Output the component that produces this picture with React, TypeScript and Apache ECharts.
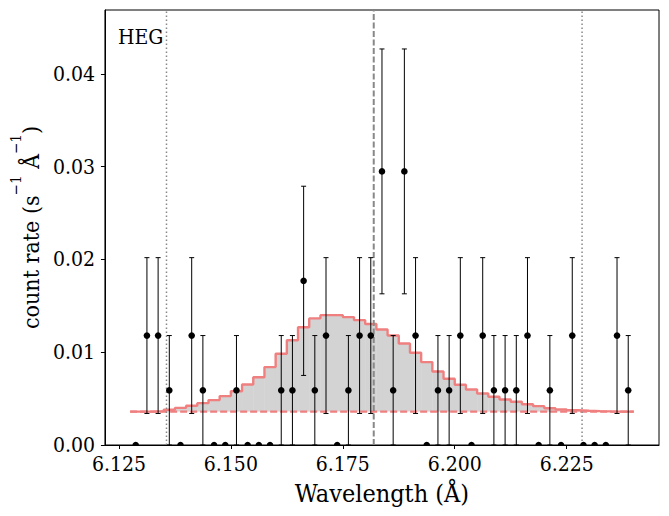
import React, { useEffect, useRef } from "react";
import * as echarts from "echarts";

// Bin centres (Å)
const CENTERS = [
  6.12875, 6.13125, 6.13375, 6.13625, 6.13875, 6.14125, 6.14375, 6.14625, 6.14875, 6.15125,
  6.15375, 6.15625, 6.15875, 6.16125, 6.16375, 6.16625, 6.16875, 6.17125, 6.17375, 6.17625,
  6.17875, 6.18125, 6.18375, 6.18625, 6.18875, 6.19125, 6.19375, 6.19625, 6.19875, 6.20125,
  6.20375, 6.20625, 6.20875, 6.21125, 6.21375, 6.21625, 6.21875, 6.22125, 6.22375, 6.22625,
  6.22875, 6.23125, 6.23375, 6.23625, 6.23875,
];
const BIN_HALF = 0.00125;

// Observed count rates (s^-1 Å^-1)
const RATES = [
  0, 0.0118, 0.0118, 0.0059, 0, 0.0118, 0.0059, 0, 0, 0.0059,
  0, 0, 0, 0.0059, 0.0059, 0.0177, 0.0059, 0.0118, 0, 0.0059,
  0.0118, 0.0118, 0.0295, 0.0059, 0.0295, 0.0118, 0, 0.0059, 0.0059, 0.0118,
  0, 0.0118, 0.0059, 0.0059, 0.0059, 0.0118, 0, 0.0059, 0, 0.0118,
  0, 0, 0, 0.0118, 0.0059,
];
// Error bar half-lengths
const ERRORS = [
  0, 0.0084, 0.0084, 0.0059, 0, 0.0084, 0.0059, 0, 0, 0.0059,
  0, 0, 0, 0.0059, 0.0059, 0.0102, 0.0059, 0.0084, 0, 0.0059,
  0.0084, 0.0084, 0.0132, 0.0059, 0.0132, 0.0084, 0, 0.0059, 0.0059, 0.0084,
  0, 0.0084, 0.0059, 0.0059, 0.0059, 0.0084, 0, 0.0059, 0, 0.0084,
  0, 0, 0, 0.0084, 0.0059,
];
// Model (step) values
const MODEL = [
  0.0036, 0.0036, 0.00365, 0.0038, 0.004, 0.00423, 0.00451, 0.00484, 0.00527, 0.0058,
  0.00653, 0.00731, 0.0084, 0.00984, 0.0113, 0.0127, 0.01365, 0.014, 0.014, 0.01379,
  0.01346, 0.01305, 0.01246, 0.01181, 0.01095, 0.00994, 0.00894, 0.00793, 0.00714, 0.00649,
  0.00599, 0.00556, 0.0052, 0.00491, 0.00466, 0.0044, 0.00419, 0.00397, 0.00383, 0.00375,
  0.00369, 0.00365, 0.00362, 0.0036, 0.0036,
];
const CONTINUUM = 0.0036;

const X_TICKS = [6.125, 6.15, 6.175, 6.2, 6.225];
const Y_TICKS = [0, 0.01, 0.02, 0.03, 0.04];
const LINE_DOTTED = [6.13562, 6.22844];
const LINE_DASHED = [6.18191];

const F_COND = "DejaVu Serif Condensed";
const Y_MAX = 0.0469;

export default function App() {
  const ref = useRef<HTMLDivElement>(null);
  useEffect(() => {
    const chart = echarts.init(ref.current!, null, { renderer: "svg" });

    const edges = CENTERS.map((c) => c - BIN_HALF);
    edges.push(CENTERS[CENTERS.length - 1] + BIN_HALF);
    const modelLine = edges.map((e, i) => [e, MODEL[Math.min(i, MODEL.length - 1)]]);
    const contLine = [
      [edges[0], CONTINUUM],
      [edges[edges.length - 1], CONTINUUM],
    ];
    const fillData = CENTERS.map((c, i) => [c - BIN_HALF, c + BIN_HALF, CONTINUUM, MODEL[i]]);
    const obsData = CENTERS.map((c, i) => [c, RATES[i], ERRORS[i]]);

    const vline = (v: number, style: any) => ({
      type: "line",
      data: [
        [v, 0],
        [v, Y_MAX],
      ],
      showSymbol: false,
      symbol: "none",
      silent: true,
      lineStyle: style,
      z: 4,
    });

    const option: any = {
      animation: false,
      grid: {
        left: 101,
        top: 10,
        width: 558,
        height: 435,
        show: true,
        borderColor: "#000",
        borderWidth: 1,
        backgroundColor: "transparent",
      },
      xAxis: {
        type: "value",
        min: 6.121875,
        max: 6.245625,
        axisLine: { show: true, lineStyle: { color: "#000", width: 1 } },
        axisTick: { show: true, length: 4, lineStyle: { color: "#000", width: 1 }, customValues: X_TICKS },
        axisLabel: {
          customValues: X_TICKS,
          formatter: (v: number) => v.toFixed(3),
          fontSize: 21,
          color: "#000",
          margin: 8,
          fontFamily: F_COND,
        },
        splitLine: { show: false },
        name: "Wavelength (Å)",
        nameLocation: "middle",
        nameGap: 36,
        nameTextStyle: { fontSize: 25, color: "#000", fontFamily: F_COND },
      },
      yAxis: {
        type: "value",
        min: 0,
        max: Y_MAX,
        axisLine: { show: true, lineStyle: { color: "#000", width: 1 } },
        axisTick: { show: true, length: 4, lineStyle: { color: "#000", width: 1 }, customValues: Y_TICKS },
        axisLabel: {
          customValues: Y_TICKS,
          formatter: (v: number) => v.toFixed(2),
          fontSize: 21,
          color: "#000",
          margin: 10,
          fontFamily: F_COND,
        },
        splitLine: { show: false },
        name: "{m|count rate (s}{sup|−1}{m| Å}{sup|−1}{m|)}",
        nameLocation: "middle",
        nameRotate: 90,
        nameGap: 57,
        nameTextStyle: {
          color: "#000",
          fontFamily: F_COND,
          rich: {
            m: { fontSize: 23, lineHeight: 24, verticalAlign: "bottom", fontFamily: F_COND, color: "#000" },
            sup: {
              fontSize: 15,
              lineHeight: 15,
              padding: [0, 0, 19, 0],
              verticalAlign: "bottom",
              fontFamily: F_COND,
              color: "#000",
            },
          },
        },
      },
      graphic: [
        {
          type: "text",
          x: 118,
          y: 37,
          style: { text: "HEG", fontSize: 21, fontFamily: F_COND, fill: "#000", verticalAlign: "middle", align: "left" },
          z: 100,
        },
      ],
      series: [
        {
          type: "custom",
          name: "fill",
          clip: true,
          z: 1,
          data: fillData,
          encode: { x: [0, 1], y: [2, 3] },
          renderItem: (params: any, api: any) => {
            const a = api.coord([api.value(0), api.value(2)]);
            const b = api.coord([api.value(1), api.value(3)]);
            return {
              type: "rect",
              shape: { x: a[0], y: b[1], width: b[0] - a[0] + 0.4, height: a[1] - b[1] },
              style: { fill: "#D3D3D3" },
            };
          },
        },
        {
          type: "line",
          name: "continuum",
          data: contLine,
          showSymbol: false,
          symbol: "none",
          lineStyle: { color: "#F08080", width: 2.4, type: [7, 3] },
          z: 3,
        },
        {
          type: "line",
          name: "model",
          step: "end",
          data: modelLine,
          showSymbol: false,
          symbol: "none",
          lineStyle: { color: "#F08080", width: 2.4 },
          z: 3,
        },
        ...LINE_DOTTED.map((v) => vline(v, { color: "#888", width: 1.5, type: [1.5, 2.5] })),
        ...LINE_DASHED.map((v) => vline(v, { color: "#888", width: 2, type: [6, 2.5] })),
        {
          type: "custom",
          name: "obs",
          clip: true,
          z: 10,
          data: obsData,
          encode: { x: 0, y: 1 },
          renderItem: (params: any, api: any) => {
            const x = api.value(0);
            const y = api.value(1);
            const e = api.value(2);
            const p = api.coord([x, y]);
            const children: any[] = [];
            if (e > 0) {
              const lo = api.coord([x, y - e]);
              const hi = api.coord([x, y + e]);
              const st = { stroke: "#000", lineWidth: 1 };
              children.push({ type: "line", shape: { x1: p[0], y1: lo[1], x2: p[0], y2: hi[1] }, style: st });
              children.push({ type: "line", shape: { x1: p[0] - 2.5, y1: lo[1], x2: p[0] + 2.5, y2: lo[1] }, style: st });
              children.push({ type: "line", shape: { x1: p[0] - 2.5, y1: hi[1], x2: p[0] + 2.5, y2: hi[1] }, style: st });
            }
            children.push({ type: "circle", shape: { cx: p[0], cy: p[1], r: 3.3 }, style: { fill: "#000" } });
            return { type: "group", children };
          },
        },
      ],
    };

    chart.setOption(option);
    return () => chart.dispose();
  }, []);

  return (
    <div
      ref={ref}
      style={{ position: "fixed", left: 0, top: 0, width: 669, height: 516, background: "#fff" }}
    />
  );
}
